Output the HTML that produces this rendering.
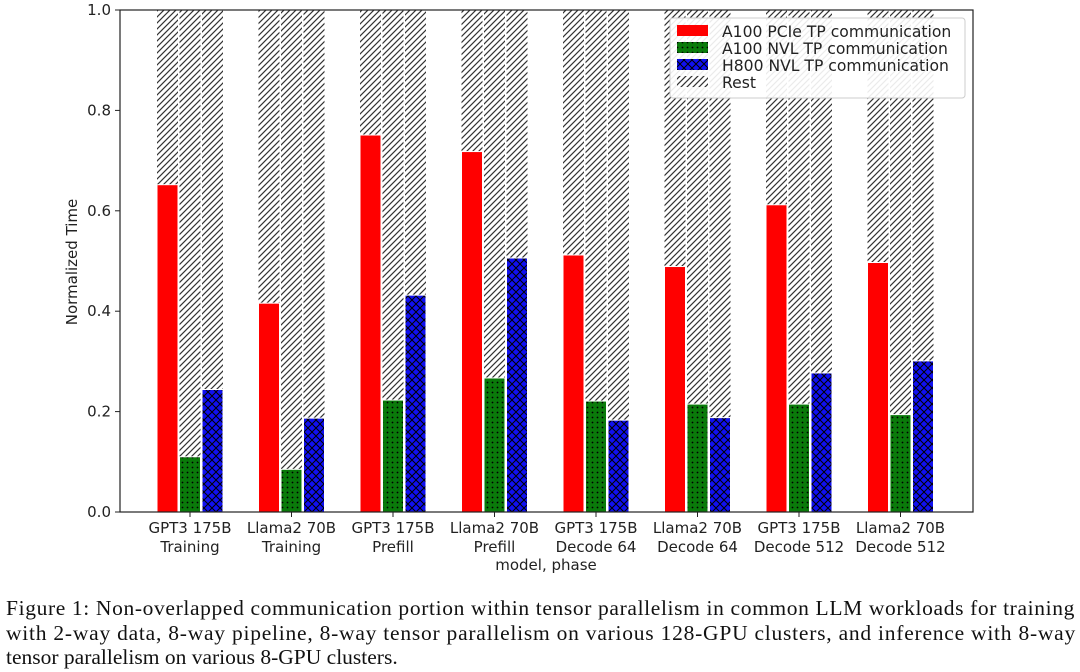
<!DOCTYPE html>
<html><head><meta charset="utf-8"><style>
body{margin:0;background:#fff;width:1080px;height:672px;overflow:hidden}
svg text{font-family:"DejaVu Sans","Liberation Sans",sans-serif;fill:#222}
.cap{position:absolute;left:6px;top:596px;font-family:"Liberation Serif",serif;font-size:21.5px;line-height:24.5px;color:#111}
.cap div{white-space:nowrap}
</style></head><body>
<svg id="chart" width="1080" height="600" style="position:absolute;left:0;top:0">
<defs>
<pattern id="hatch" patternUnits="userSpaceOnUse" width="6" height="6"><path d="M-1,7 L7,-1 M-1,1 L1,-1 M5,7 L7,5" stroke="#333" stroke-width="1.2"/></pattern>
<pattern id="dots" patternUnits="userSpaceOnUse" width="5" height="5"><rect width="5" height="5" fill="#0a7a0a"/><circle cx="2.5" cy="2.5" r="0.9" fill="#000"/></pattern>
<pattern id="cross" patternUnits="userSpaceOnUse" width="8" height="8"><rect width="8" height="8" fill="#1010f0"/><path d="M0,0 L8,8 M8,0 L0,8" stroke="#000" stroke-width="1"/></pattern>
</defs>
<g id="plot"></g>
<text transform="translate(77,262) rotate(-90)" text-anchor="middle" font-size="15">Normalized Time</text>
<text x="546" y="570" text-anchor="middle" font-size="15">model, phase</text>
<g>
<rect x="670" y="18" width="295" height="80" rx="3" fill="#fff" fill-opacity="0.9" stroke="#ccc"/>
<rect x="677" y="25" width="31" height="11" fill="red"/><text x="722" y="37" font-size="15.6">A100 PCIe TP communication</text>
<rect x="677" y="42" width="31" height="11" fill="url(#dots)"/><text x="722" y="54" font-size="15.6">A100 NVL TP communication</text>
<rect x="677" y="59" width="31" height="11" fill="url(#cross)"/><text x="722" y="71" font-size="15.6">H800 NVL TP communication</text>
<rect x="677" y="76" width="31" height="11" fill="url(#hatch)"/><text x="722" y="88" font-size="15.6">Rest</text>
</g>
</svg>
<div class="cap">
<div data-w="1069">Figure 1: Non-overlapped communication portion within tensor parallelism in common LLM workloads for training</div>
<div data-w="1070">with 2-way data, 8-way pipeline, 8-way tensor parallelism on various 128-GPU clusters, and inference with 8-way</div>
<div data-w="0">tensor parallelism on various 8-GPU clusters.</div>
</div>
<script>
const categories=[["GPT3 175B","Training"],["Llama2 70B","Training"],["GPT3 175B","Prefill"],["Llama2 70B","Prefill"],["GPT3 175B","Decode 64"],["Llama2 70B","Decode 64"],["GPT3 175B","Decode 512"],["Llama2 70B","Decode 512"]];
const a100pcie=[0.652,0.416,0.751,0.718,0.512,0.489,0.612,0.497];
const a100nvl=[0.110,0.085,0.223,0.267,0.221,0.215,0.215,0.194];
const h800nvl=[0.244,0.187,0.432,0.506,0.183,0.188,0.277,0.301];
const yTicks=[0.0,0.2,0.4,0.6,0.8,1.0];
const NS="http://www.w3.org/2000/svg";
const L=120,R=973,T=10,B=512;
const y=v=>B-(B-T)*v;
const xc=i=>190+i*101.5;
const g=document.getElementById('plot');
function mk(tag,attrs,parent){const e=document.createElementNS(NS,tag);for(const k in attrs)e.setAttribute(k,attrs[k]);(parent||g).appendChild(e);return e;}
const series=[[a100pcie,'red','a100-pcie'],[a100nvl,'url(#dots)','a100-nvl'],[h800nvl,'url(#cross)','h800-nvl']];
categories.forEach((c,i)=>{
  series.forEach((s,j)=>{
    const x0=xc(i)+(j-1)*22.5-10.5, v=s[0][i];
    const r=mk('rect',{x:x0,y:y(1),width:21,height:y(v)-y(1),fill:'url(#hatch)'});
    
    
    const b=mk('rect',{x:x0,y:y(v),width:21,height:y(0)-y(v),fill:s[1],stroke:'#fff','stroke-width':1});
    
    
  });
  mk('line',{x1:xc(i),x2:xc(i),y1:B,y2:B+5,stroke:'#222'});
  c.forEach((t,k)=>{const tx=mk('text',{x:xc(i),y:B+21+k*19,'text-anchor':'middle','font-size':15});tx.textContent=t;
    
    });
});
yTicks.forEach(v=>{
  mk('line',{x1:L-5,x2:L,y1:y(v),y2:y(v),stroke:'#222'});
  const t=mk('text',{x:L-9,y:y(v)+5,'text-anchor':'end','font-size':15});t.textContent=v.toFixed(1);
  
  
});
const ax=mk('rect',{x:L,y:T,width:R-L,height:B-T,fill:'none',stroke:'#222','stroke-width':1.2});


document.querySelectorAll('.cap div').forEach(d=>{
  const w=+d.getAttribute('data-w'); if(!w) return;
  const s=document.createElement('span'); s.textContent=d.textContent; d.textContent=''; d.appendChild(s);
  const cur=s.getBoundingClientRect().width; const n=s.textContent.length;
  d.style.letterSpacing=((w-cur)/n)+'px';
});
</script>
</body></html>
